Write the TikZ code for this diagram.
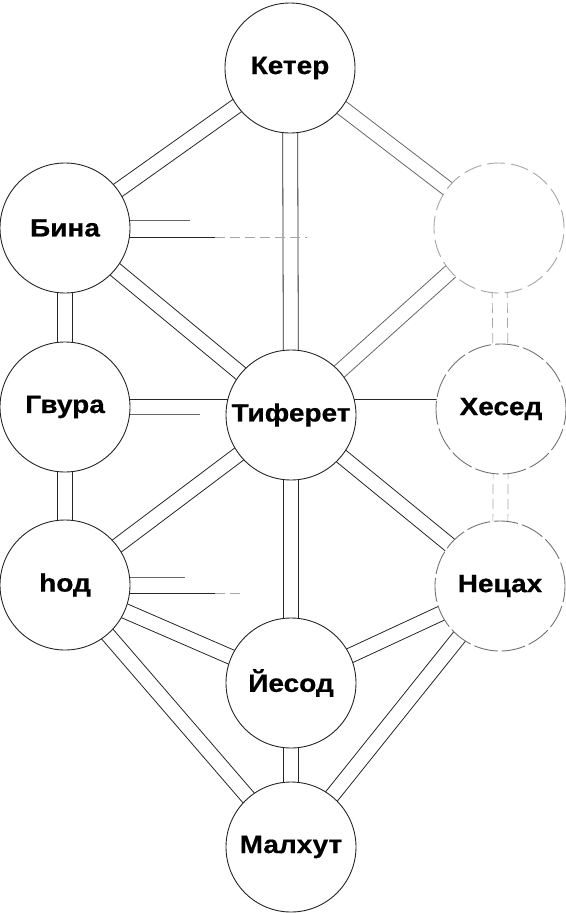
\documentclass[tikz,border=0pt]{standalone}
\usepackage{fontspec}
\setmainfont{Liberation Sans}
\newfontfamily\sefirafont{Liberation Sans}[FakeStretch=1.12, FakeBold=0.6]
\usetikzlibrary{calc,backgrounds}
\tikzset{
  sef/.style={circle, draw=black!85, line width=0.9pt, fill=white, minimum size=130pt, inner sep=0pt, font=\sefirafont\bfseries\fontsize{25}{29}\selectfont},
  fadesef/.style={sef, draw=black!55, dash pattern=on 24pt off 4pt},
  palesef/.style={sef, draw=black!35, dash pattern=on 18pt off 6pt},
  link/.style={draw=black!85, line width=0.8pt},
  greylink/.style={draw=black!60, line width=0.8pt},
  faint/.style={draw=black!35, line width=0.7pt, dash pattern=on 10pt off 5pt},
}
\begin{document}
\begin{tikzpicture}[x=1pt,y=-1pt]
\useasboundingbox (0,0) rectangle (565,913);
% sefirot
\node[sef] (ket) at (290,68) {Кетер};
\node[sef] (bin) at (65,228) {Бина};
\node[palesef] (hok) at (499,228) {};
\node[sef] (gev) at (65,407) {Гвура};
\node[sef] (tif) at (291,415) {Тиферет};
\node[fadesef] (hes) at (501,409) {\textcolor{black}{Хесед}};
\node[sef] (hod) at (65,585) {hод};
\node[fadesef] (net) at (500,586) {\textcolor{black}{Нецах}};
\node[sef] (yes) at (291,683) {Йесод};
\node[sef] (mal) at (291,847) {Малхут};
% end points of the faded horizontal strokes
\coordinate (bu) at (190,220);
\coordinate (bl) at (215,237);
\coordinate (blf) at (307,237);
\coordinate (gl) at (200,414);
\coordinate (hu) at (185,577);
\coordinate (hl) at (215,593);
\coordinate (hlf) at (240,593);
\begin{scope}[on background layer]
  \foreach \a/\b in {ket/bin, ket/tif, bin/gev, bin/tif, gev/hod, tif/hod, tif/yes, tif/net, hod/yes, hod/mal, net/yes, net/mal, yes/mal} {
    \draw[link] ($(\a.center)!7.5pt!90:(\b.center)$) -- ($(\b.center)!7.5pt!-90:(\a.center)$);
    \draw[link] ($(\a.center)!7.5pt!-90:(\b.center)$) -- ($(\b.center)!7.5pt!90:(\a.center)$);
  }
  \foreach \a/\b in {ket/hok, hok/tif} {
    \draw[greylink] ($(\a.center)!7.5pt!90:(\b.center)$) -- ($(\b.center)!7.5pt!-90:(\a.center)$);
    \draw[greylink] ($(\a.center)!7.5pt!-90:(\b.center)$) -- ($(\b.center)!7.5pt!90:(\a.center)$);
  }
  \foreach \a/\b in {hok/hes, hes/net} {
    \draw[faint] ($(\a.center)!7.5pt!90:(\b.center)$) -- ($(\b.center)!7.5pt!-90:(\a.center)$);
    \draw[faint] ($(\a.center)!7.5pt!-90:(\b.center)$) -- ($(\b.center)!7.5pt!90:(\a.center)$);
  }
  % Бина -- Хохма (faded)
  \draw[greylink] (bin.center |- bu) -- (bu);
  \draw[link] (bin.center |- bl) -- (bl);
  \draw[faint] (bl) -- (blf);
  % Гвура -- Хесед
  \draw[link] ($(gev.center)+(0,-8)$) -- ($(hes.center)+(0,-10)$);
  \draw[greylink] (gev.center |- gl) -- (gl);
  % hод -- Нецах (faded)
  \draw[greylink] (hod.center |- hu) -- (hu);
  \draw[link] (hod.center |- hl) -- (hl);
  \draw[faint] (hl) -- (hlf);
\end{scope}
\end{tikzpicture}
\end{document}
